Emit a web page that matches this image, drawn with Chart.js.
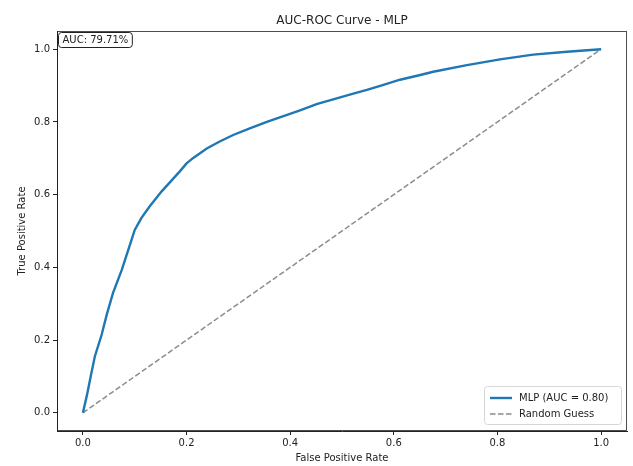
<!DOCTYPE html>
<html>
<head>
<meta charset="utf-8">
<script src="https://cdn.jsdelivr.net/npm/chart.js@4"></script>
<style>
  body { margin: 0; background: #fff; }
  canvas { display: block; }
</style>
</head>
<body>
<canvas id="rocChart" width="633" height="466"></canvas>
<script>
// Pontos da curva ROC
const fpr = [0, 0.008, 0.015, 0.023, 0.036, 0.046, 0.058, 0.075, 0.094, 0.100, 0.113, 0.129,
  0.152, 0.170, 0.187, 0.200, 0.213, 0.239, 0.264, 0.290, 0.322, 0.355, 0.387, 0.419, 0.451,
  0.483, 0.515, 0.548, 0.580, 0.612, 0.651, 0.676, 0.741, 0.805, 0.869, 0.934, 1.0];
const tpr = [0, 0.05, 0.10, 0.155, 0.214, 0.27, 0.329, 0.393, 0.476, 0.503, 0.536, 0.568,
  0.609, 0.637, 0.664, 0.686, 0.701, 0.727, 0.746, 0.764, 0.782, 0.800, 0.816, 0.832, 0.849,
  0.862, 0.875, 0.888, 0.902, 0.916, 0.929, 0.938, 0.956, 0.972, 0.985, 0.993, 1.0];
const diagX = [0, 1];
const diagY = [0, 1];

const xTicks = [0, 0.2, 0.4, 0.6, 0.8, 1.0];
const yTicks = [0, 0.2, 0.4, 0.6, 0.8, 1.0];

const seriesLabels = ['MLP (AUC = 0.80)', 'Random Guess'];
const titulo = 'AUC-ROC Curve - MLP';
const aucTexto = 'AUC: 79.71%';

const FONTE = 'DejaVu Sans';
const TINTA = '#222';

function pares(xs, ys) {
  return xs.map((x, i) => ({ x: x, y: ys[i] }));
}

// Moldura, título, caixa AUC e legenda
const extras = {
  id: 'extras',
  afterDraw(chart) {
    const ctx = chart.ctx;
    const a = chart.chartArea;
    ctx.save();

    // moldura
    ctx.strokeStyle = TINTA;
    ctx.lineWidth = 0.8;
    ctx.strokeRect(a.left + 0.5, a.top + 0.5, a.right - a.left - 1, a.bottom - a.top - 1);

    // título
    ctx.fillStyle = TINTA;
    ctx.font = '12px ' + FONTE;
    ctx.textAlign = 'center';
    ctx.textBaseline = 'middle';
    ctx.fillText(titulo, (a.left + a.right) / 2, a.top - 10);

    // caixa AUC
    ctx.font = '10px ' + FONTE;
    const wAuc = ctx.measureText(aucTexto).width + 8;
    ctx.beginPath();
    ctx.roundRect(a.left + 1.5, a.top + 1.5, wAuc, 15, 3);
    ctx.fillStyle = '#fff';
    ctx.fill();
    ctx.strokeStyle = TINTA;
    ctx.lineWidth = 1;
    ctx.stroke();
    ctx.fillStyle = TINTA;
    ctx.textAlign = 'left';
    ctx.fillText(aucTexto, a.left + 5.5, a.top + 9.5);

    // legenda
    const ds = chart.data.datasets;
    const lw = 137, lh = 38;
    const lx = a.right - 6 - lw, ly = a.bottom - 7 - lh;
    ctx.beginPath();
    ctx.roundRect(lx + 0.5, ly + 0.5, lw, lh, 3);
    ctx.fillStyle = 'rgba(255,255,255,0.8)';
    ctx.fill();
    ctx.strokeStyle = '#d6d6d6';
    ctx.lineWidth = 1;
    ctx.stroke();
    ds.forEach((d, i) => {
      const yy = ly + 12 + i * 16;
      ctx.beginPath();
      ctx.setLineDash(d.borderDash || []);
      ctx.strokeStyle = d.borderColor;
      ctx.lineWidth = d.borderWidth;
      ctx.moveTo(lx + 6, yy);
      ctx.lineTo(lx + 28, yy);
      ctx.stroke();
      ctx.setLineDash([]);
      ctx.fillStyle = TINTA;
      ctx.fillText(d.label, lx + 35, yy + 0.5);
    });

    ctx.restore();
  }
};

const ctx = document.getElementById('rocChart').getContext('2d');
const myChart = new Chart(ctx, {
  type: 'line',
  data: {
    datasets: [
      {
        label: seriesLabels[0],
        data: pares(fpr, tpr),
        borderColor: '#1f77b4',
        borderWidth: 2.4,
        pointRadius: 0,
        tension: 0,
        fill: false
      },
      {
        label: seriesLabels[1],
        data: pares(diagX, diagY),
        borderColor: '#8c8c8c',
        borderWidth: 1.5,
        borderDash: [5.5, 2.5],
        pointRadius: 0,
        tension: 0,
        fill: false
      }
    ]
  },
  options: {
    responsive: false,
    animation: false,
    layout: { padding: { top: 31, right: 6, left: 0, bottom: 0 } },
    plugins: {
      legend: { display: false },
      title: { display: false },
      tooltip: { enabled: false }
    },
    scales: {
      x: {
        type: 'linear',
        min: -0.05,
        max: 1.05,
        afterBuildTicks: s => { s.ticks = xTicks.map(v => ({ value: v })); },
        afterFit: s => { s.height = 35; },
        grid: { drawOnChartArea: false, drawTicks: true, tickLength: 4, color: TINTA },
        border: { display: true, color: TINTA },
        ticks: {
          color: TINTA,
          padding: 2,
          maxRotation: 0,
          font: { family: FONTE, size: 10 },
          callback: v => v.toFixed(1)
        },
        title: {
          display: true,
          text: 'False Positive Rate',
          color: TINTA,
          font: { family: FONTE, size: 10 },
          padding: { top: 0, bottom: 2 }
        }
      },
      y: {
        type: 'linear',
        min: -0.05,
        max: 1.05,
        afterBuildTicks: s => { s.ticks = yTicks.map(v => ({ value: v })); },
        afterFit: s => { s.width = 57; },
        grid: { drawOnChartArea: false, drawTicks: true, tickLength: 4, color: TINTA },
        border: { display: true, color: TINTA },
        ticks: {
          color: TINTA,
          padding: 3,
          font: { family: FONTE, size: 10 },
          callback: v => v.toFixed(1)
        },
        title: {
          display: true,
          text: 'True Positive Rate',
          color: TINTA,
          font: { family: FONTE, size: 10 },
          padding: { top: 16, bottom: 0 }
        }
      }
    }
  },
  plugins: [extras]
});
</script>
</body>
</html>
